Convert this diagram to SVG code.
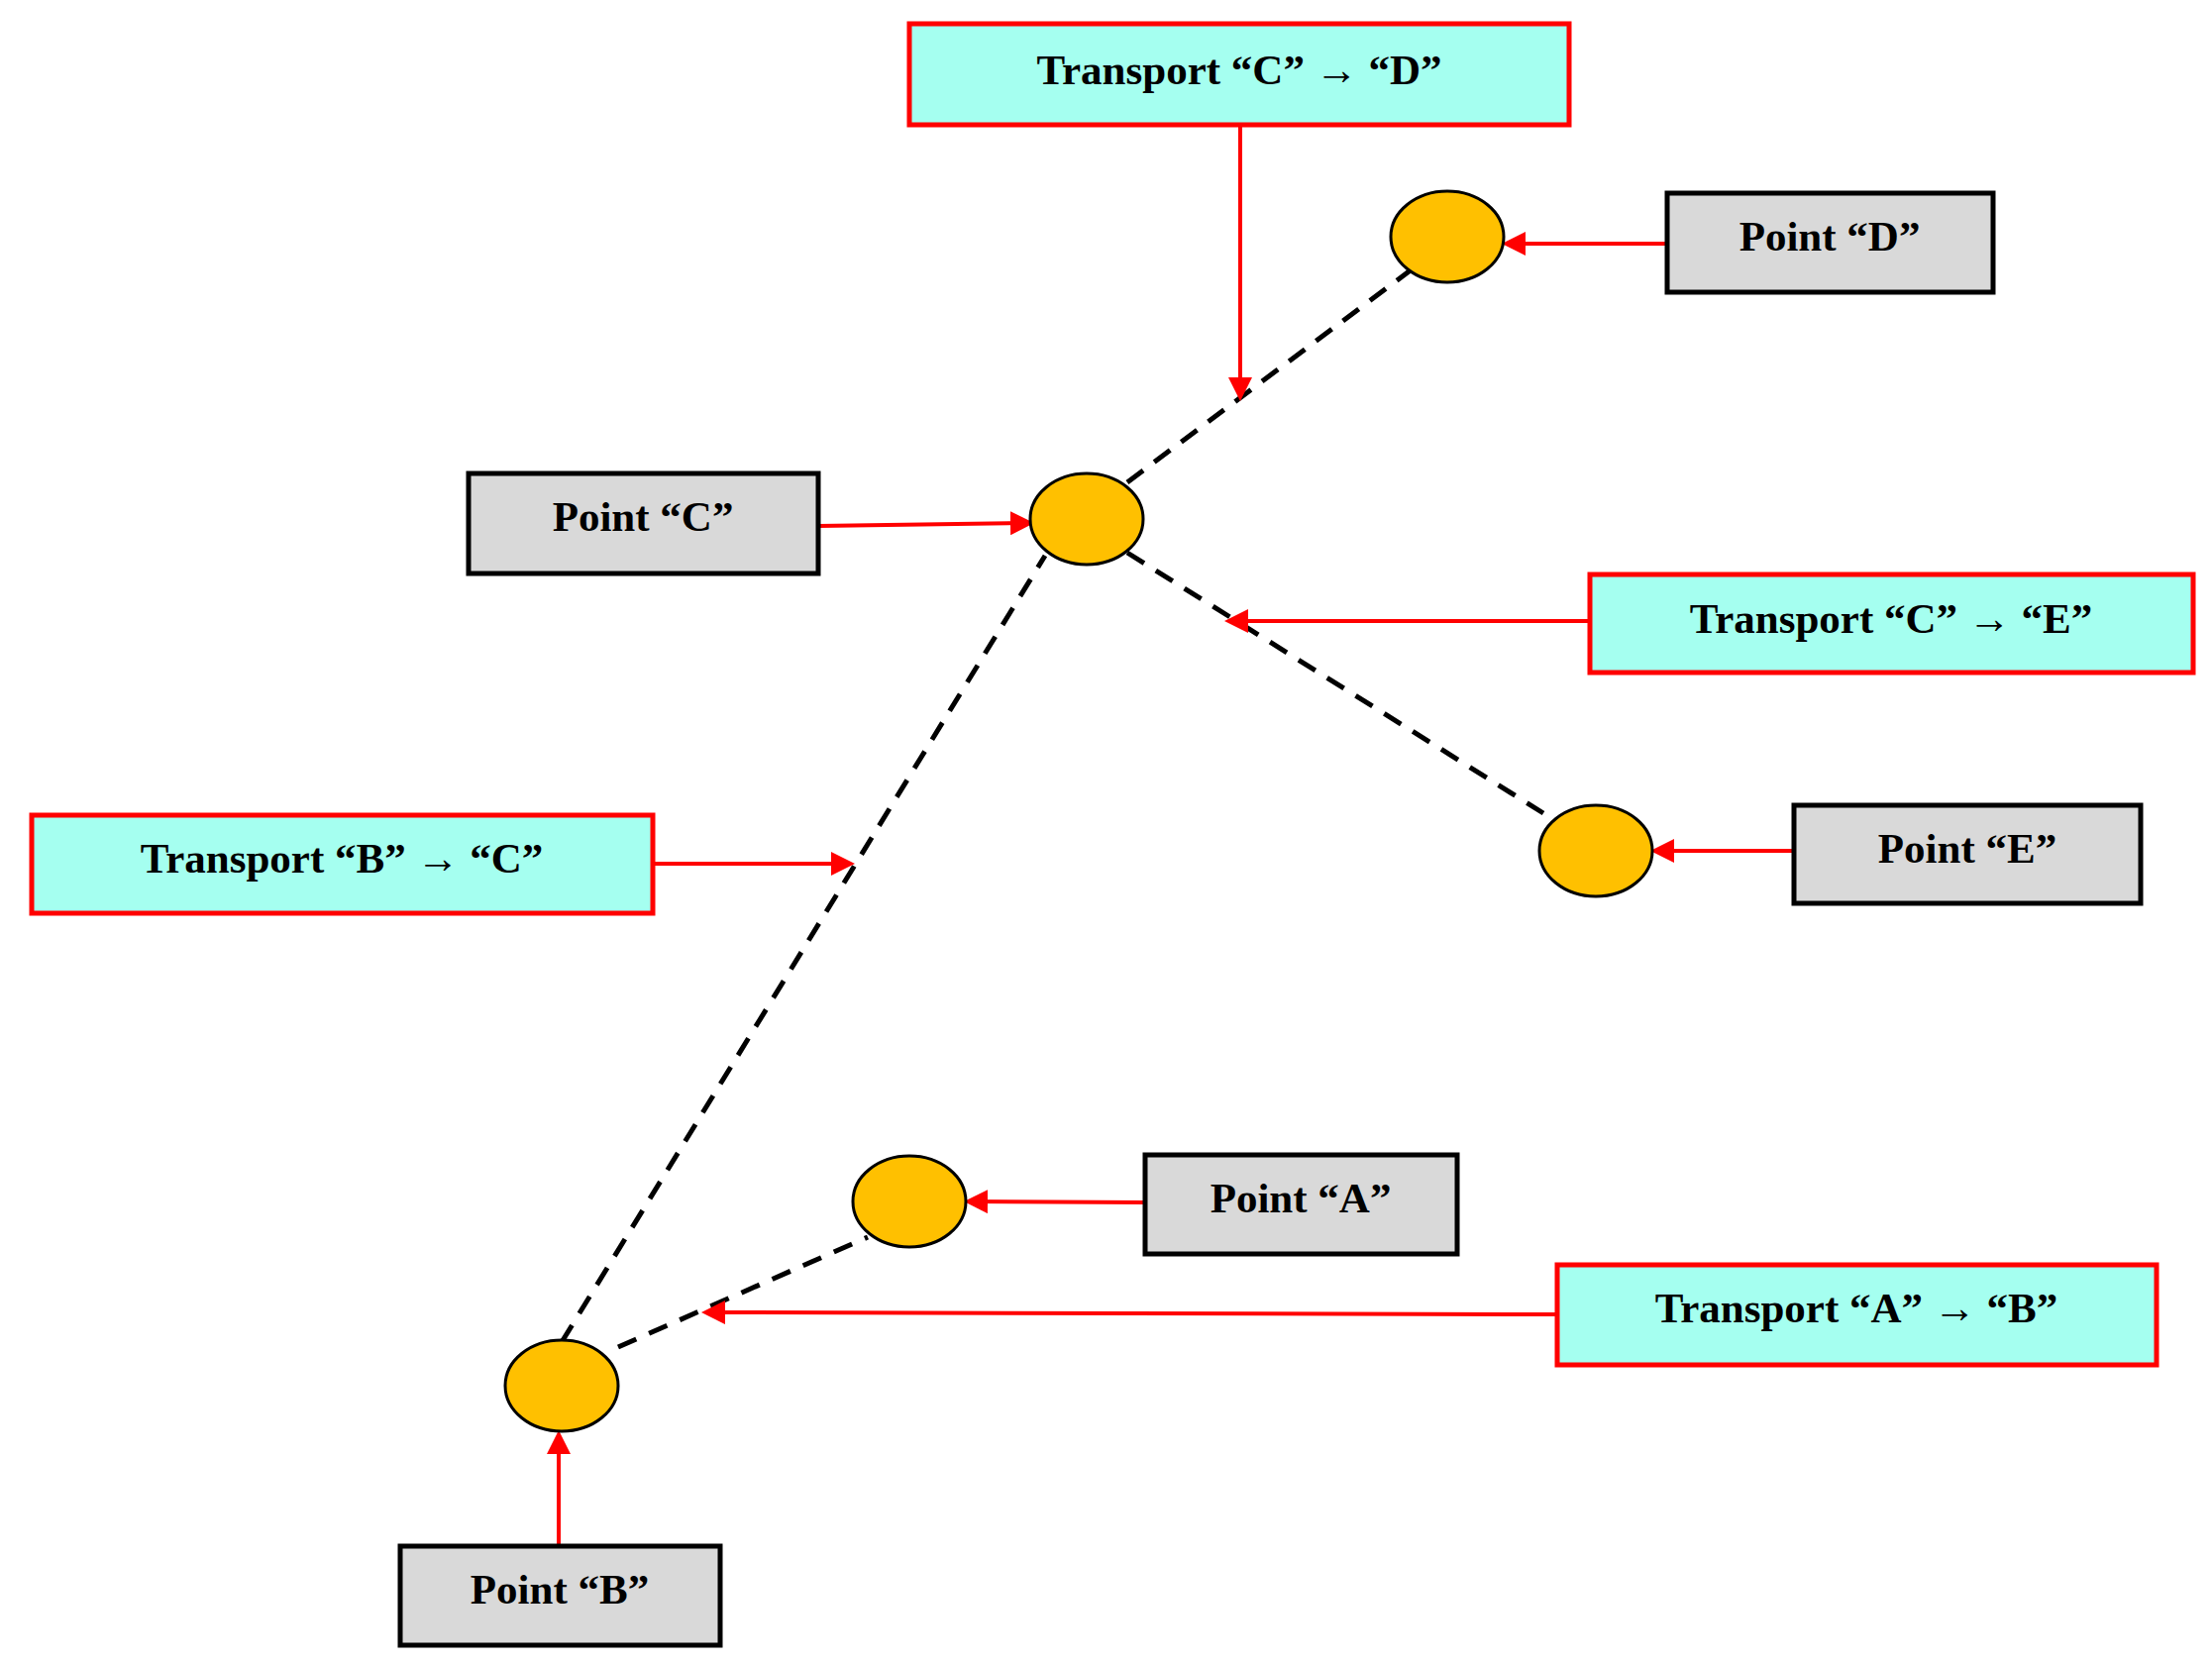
<svg xmlns="http://www.w3.org/2000/svg" width="2233" height="1681" viewBox="0 0 2233 1681">
<style>
.t{fill:#a5fff0;stroke:#ff0000;stroke-width:5}
.p{fill:#d9d9d9;stroke:#000;stroke-width:5}
.e{fill:#ffc000;stroke:#000;stroke-width:3}
.d{stroke:#000;stroke-width:5;stroke-dasharray:20,14;fill:none}
.a{stroke:#ff0000;stroke-width:4;fill:none;marker-end:url(#ah)}
text{font-family:"Liberation Serif",serif;font-weight:bold;font-size:43px;text-anchor:middle;dominant-baseline:central;fill:#000}
</style>
<defs><marker id="ah" markerWidth="6" markerHeight="6" refX="5" refY="3" orient="auto"><path d="M0,0L6,3L0,6Z" fill="#ff0000"/></marker></defs>
<g id="connectors">
<line class="d" x1="567" y1="1355" x2="1055" y2="561"/>
<line class="d" x1="1138" y1="487" x2="1425" y2="272"/>
<line class="d" x1="1138" y1="558" x2="1558" y2="821"/>
<line class="d" x1="624" y1="1360" x2="876" y2="1249"/>
<line class="a" x1="1252" y1="126" x2="1252" y2="401"/>
<line class="a" x1="1683" y1="246" x2="1520" y2="246"/>
<line class="a" x1="826" y1="531" x2="1040" y2="528"/>
<line class="a" x1="1605" y1="627" x2="1240" y2="627"/>
<line class="a" x1="1811" y1="859" x2="1670" y2="859"/>
<line class="a" x1="659" y1="872" x2="859" y2="872"/>
<line class="a" x1="1156" y1="1214" x2="977" y2="1213"/>
<line class="a" x1="1572" y1="1327" x2="712" y2="1325"/>
<line class="a" x1="564" y1="1561" x2="564" y2="1448"/>
</g>
<g id="eD"><ellipse class="e" cx="1461" cy="239" rx="57" ry="46"/></g>
<g id="eC"><ellipse class="e" cx="1097" cy="524" rx="57" ry="46"/></g>
<g id="eE"><ellipse class="e" cx="1611" cy="859" rx="57" ry="46"/></g>
<g id="eA"><ellipse class="e" cx="918" cy="1213" rx="57" ry="46"/></g>
<g id="eB"><ellipse class="e" cx="567" cy="1399" rx="57" ry="46"/></g>
<g id="tCD"><rect class="t" x="918" y="24" width="666" height="102"/><text x="1251" y="70">Transport “C” → “D”</text></g>
<g id="pD"><rect class="p" x="1683" y="195" width="329" height="100"/><text x="1847" y="238">Point “D”</text></g>
<g id="pC"><rect class="p" x="473" y="478" width="353" height="101"/><text x="649" y="521">Point “C”</text></g>
<g id="tCE"><rect class="t" x="1605" y="580" width="609" height="99"/><text x="1909" y="624">Transport “C” → “E”</text></g>
<g id="pE"><rect class="p" x="1811" y="813" width="350" height="99"/><text x="1986" y="856">Point “E”</text></g>
<g id="tBC"><rect class="t" x="32" y="823" width="627" height="99"/><text x="345" y="866">Transport “B” → “C”</text></g>
<g id="pA"><rect class="p" x="1156" y="1166" width="315" height="100"/><text x="1313" y="1209">Point “A”</text></g>
<g id="tAB"><rect class="t" x="1572" y="1277" width="605" height="101"/><text x="1874" y="1320">Transport “A” → “B”</text></g>
<g id="pB"><rect class="p" x="404" y="1561" width="323" height="100"/><text x="565" y="1604">Point “B”</text></g>
</svg>
